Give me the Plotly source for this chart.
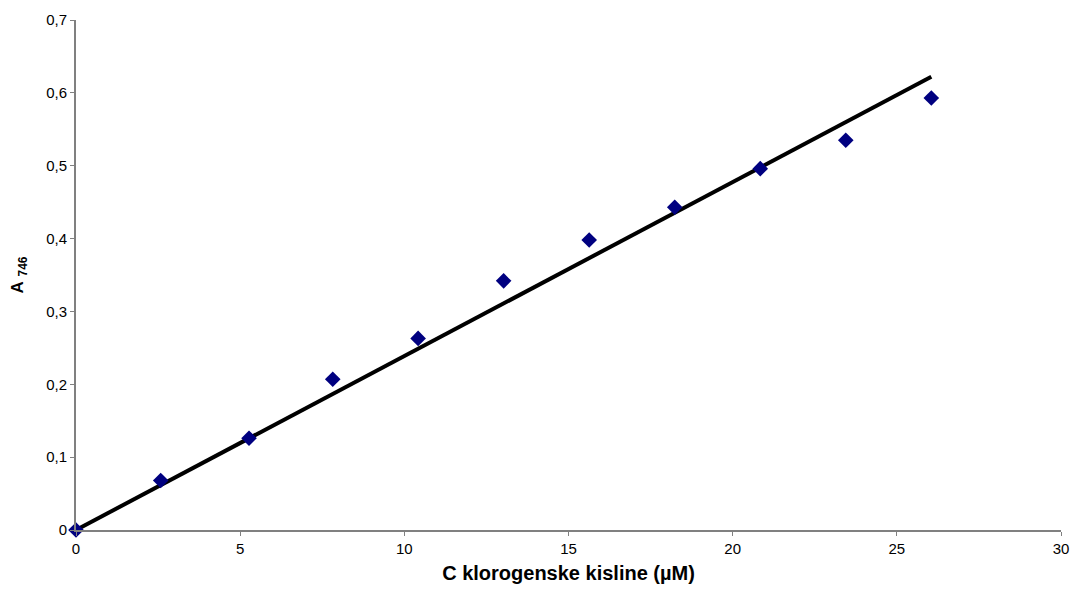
import plotly.graph_objects as go

conc = [0, 2.58, 5.27, 7.82, 10.42, 13.025, 15.63, 18.235, 20.84, 23.445, 26.05]
absorb = [0.0, 0.068, 0.126, 0.207, 0.263, 0.342, 0.398, 0.443, 0.496, 0.535, 0.593]
fit_x = [0, 26.05]
fit_y = [0, 0.622]

x_ticks = [0, 5, 10, 15, 20, 25, 30]
y_ticks = [0, 0.1, 0.2, 0.3, 0.4, 0.5, 0.6, 0.7]
y_labels = ["0", "0,1", "0,2", "0,3", "0,4", "0,5", "0,6", "0,7"]

fig = go.Figure()
fig.add_trace(go.Scatter(x=fit_x, y=fit_y, mode="lines",
                         line=dict(color="black", width=4),
                         showlegend=False, cliponaxis=False))
fig.add_trace(go.Scatter(x=conc, y=absorb, mode="markers",
                         marker=dict(symbol="diamond", size=12, color="#000080"),
                         showlegend=False, cliponaxis=False))

FONT = "Liberation Sans, Arial"
fig.update_layout(
    width=1071, height=597,
    margin=dict(l=76, r=10, t=20, b=67),
    paper_bgcolor="white", plot_bgcolor="white",
    font=dict(family=FONT, size=15, color="black"),
    xaxis=dict(range=[0, 30], tickvals=x_ticks, ticktext=[str(v) for v in x_ticks],
               showgrid=False, zeroline=False, showline=True, linecolor="#808080",
               linewidth=2, ticks="outside", ticklen=4, tickcolor="#808080",
               tickfont=dict(family=FONT, size=15, color="black"),
               automargin=False,
               title=dict(text="<b>C klorogenske kisline (µM)</b>",
                          font=dict(family=FONT, size=20, color="black"),
                          standoff=10)),
    yaxis=dict(range=[0, 0.7], tickvals=y_ticks, ticktext=y_labels,
               showgrid=False, zeroline=False, showline=True, linecolor="#808080",
               linewidth=2, ticks="outside", ticklen=4, tickcolor="#808080",
               tickfont=dict(family=FONT, size=15, color="black"),
               automargin=False,
               title=dict(text="<b>A</b> <sub><b>746</b></sub>",
                          font=dict(family=FONT, size=17, color="black"),
                          standoff=18)),
)
fig.write_html("out.html", config={"displayModeBar": False},
               post_script="document.body.style.margin='0';document.body.style.overflow='hidden';")
